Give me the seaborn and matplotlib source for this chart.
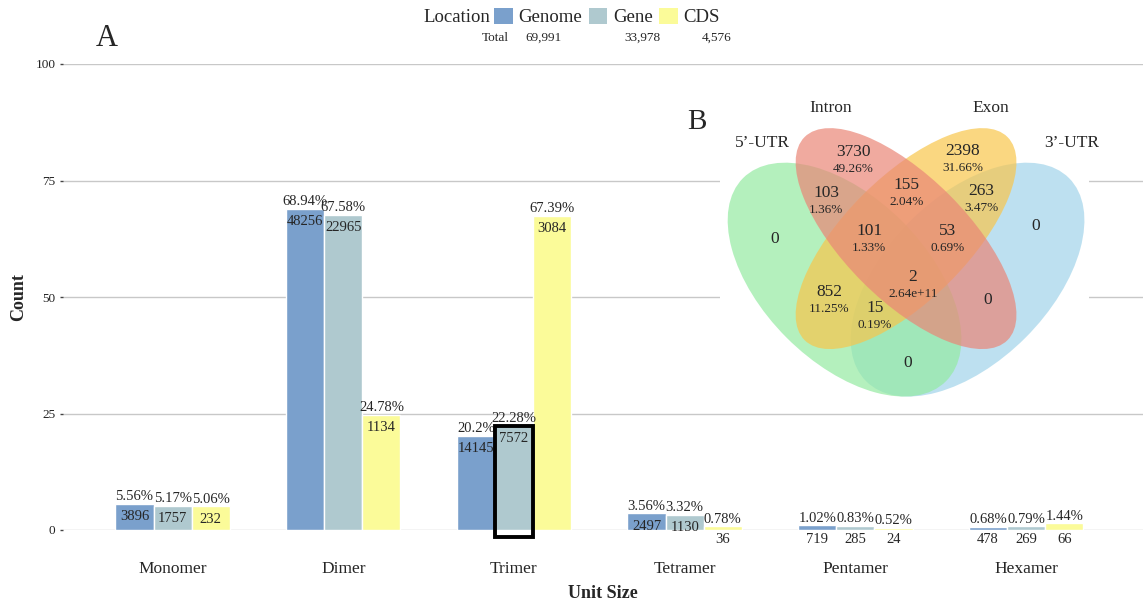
import matplotlib
matplotlib.use("Agg")
import matplotlib.pyplot as plt
from matplotlib.patches import Ellipse, Patch, Rectangle
import seaborn as sns
import pandas as pd

# panel A data
units = ["Monomer", "Dimer", "Trimer", "Tetramer", "Pentamer", "Hexamer"]
locations = ["Genome", "Gene", "CDS"]
genome_counts = [3896, 48256, 14145, 2497, 719, 478]
gene_counts = [1757, 22965, 7572, 1130, 285, 269]
cds_counts = [232, 1134, 3084, 36, 24, 66]
genome_pct = [5.56, 68.94, 20.2, 3.56, 1.02, 0.68]
gene_pct = [5.17, 67.58, 22.28, 3.32, 0.83, 0.79]
cds_pct = [5.06, 24.78, 67.39, 0.78, 0.52, 1.44]
totals = ["69,991", "33,978", "4,576"]

# panel B data (venn regions)
venn_sets = ["5\u2019-UTR", "Intron", "Exon", "3\u2019-UTR"]
venn_counts = [3730, 2398, 103, 155, 263, 0, 0, 101, 53, 2, 852, 15, 0, 0]
venn_pcts = ["49.26%", "31.66%", "1.36%", "2.04%", "3.47%", "", "",
             "1.33%", "0.69%", "2.64e+11", "11.25%", "0.19%", "", ""]

colors = ["#7AA0CC", "#AFC9CF", "#FBFB99"]

sns.set_style("white")
plt.rcParams["font.family"] = ["Liberation Serif", "DejaVu Serif"]

W, H = 1144, 601
fig = plt.figure(figsize=(W / 100, H / 100), dpi=100)
ax = fig.add_axes([63 / W, 1 - 530 / H, 1080 / W, 466 / H])

df = pd.DataFrame({
    "Unit": units * 3,
    "Location": [l for l in locations for _ in units],
    "Pct": genome_pct + gene_pct + cds_pct,
})
sns.barplot(data=df, x="Unit", y="Pct", hue="Location", hue_order=locations,
            palette=colors, width=0.67, saturation=1, edgecolor="white",
            linewidth=1, legend=False, ax=ax)

ax.set_ylim(0, 100)
ax.set_xlim(-0.642, 5.685)
ax.set_yticks([0, 25, 50, 75, 100])
ax.yaxis.grid(True, color="#c8c8c8", lw=1)
ax.set_axisbelow(True)
for s in ax.spines.values():
    s.set_visible(False)
ax.tick_params(axis="y", length=2.5, width=1, color="#444444", labelsize=9.5,
               labelcolor="#222222", pad=3, left=True)
ax.tick_params(axis="x", length=0, labelsize=12.5, pad=22)
ax.set_xlabel("Unit Size", fontsize=13, fontweight="bold", labelpad=6)
ax.set_ylabel("Count", fontsize=13, fontweight="bold", labelpad=6)

all_counts = [genome_counts, gene_counts, cds_counts]
all_pcts = [genome_pct, gene_pct, cds_pct]
for cont, cnts, pcts in zip(ax.containers, all_counts, all_pcts):
    for bar, c, p in zip(cont, cnts, pcts):
        x = bar.get_x() + bar.get_width() / 2
        h = bar.get_height()
        ax.annotate(f"{p:g}%", (x, h), xytext=(0, 0.5), textcoords="offset points",
                    ha="center", va="bottom", fontsize=10.5)
        if p > 3:
            ax.annotate(str(c), (x, h), xytext=(0, -4.5), textcoords="offset points",
                        ha="center", va="top", fontsize=10.5)
        else:
            ax.annotate(str(c), (x, 0), xytext=(0, -2), textcoords="offset points",
                        ha="center", va="top", fontsize=10.5)

# highlight on the trimer gene bar
hb = ax.containers[1][2]
ax.add_patch(Rectangle((hb.get_x(), -1.4), hb.get_width(), hb.get_height() + 1.4,
                       fill=False, ec="black", lw=2.8, clip_on=False, zorder=5))

# legend row
fig.text(490 / W, 1 - 17 / H, "Location", ha="right", va="center", fontsize=13.5)
handles = [Patch(fc=c, ec="none") for c in colors]
fig.legend(handles, locations, loc="center left", bbox_to_anchor=(494 / W, 1 - 17 / H),
           ncol=3, frameon=False, fontsize=13.5, handlelength=1.0, handleheight=1.0,
           handletextpad=0.3, columnspacing=0.35, borderpad=0, borderaxespad=0)
fig.text(495 / W, 1 - 38 / H, "Total", ha="center", va="center", fontsize=9.5)
for xp, t in zip([543, 642, 717], totals):
    fig.text(xp / W, 1 - 38 / H, t, ha="center", va="center", fontsize=9.5)

fig.text(107 / W, 1 - 38 / H, "A", ha="center", va="center", fontsize=22)

# panel B: four-set venn
vax = fig.add_axes([719.5 / W, 1 - 402.7 / H, 369 / W, 307.7 / H])
vax.set_xlim(0.045, 0.945)
vax.set_ylim(0.17, 0.92)
vax.axis("off")
vax.add_patch(Rectangle((0, 0), 1, 1, transform=vax.transAxes, fc="white", ec="none", zorder=0))

# drawn in stacking order: 3'-UTR, 5'-UTR, Exon, Intron
ell_specs = [((0.65, 0.47), 0.70, 0.40, 45, "#A2D4EA"),
             ((0.35, 0.47), 0.70, 0.40, -45, "#94EAA2"),
             ((0.50, 0.57), 0.70, 0.30, 45, "#F8C64C"),
             ((0.50, 0.57), 0.70, 0.30, -45, "#EA8677")]
for (cxy, w, h, ang, col) in ell_specs:
    vax.add_patch(Ellipse(cxy, w, h, angle=ang, fc=col, ec="none", alpha=0.7, zorder=1))

venn_pos = [(0.371, 0.781), (0.639, 0.784), (0.305, 0.681), (0.502, 0.701),
            (0.683, 0.686), (0.180, 0.569), (0.817, 0.601), (0.410, 0.589),
            (0.602, 0.589), (0.517, 0.477), (0.312, 0.440), (0.424, 0.401),
            (0.700, 0.420), (0.505, 0.267)]
for (px, py), n, pc in zip(venn_pos, venn_counts, venn_pcts):
    vax.text(px, py, str(n), ha="center", va="center", fontsize=12.5, zorder=3)
    if pc:
        vax.text(px, py - 0.041, pc, ha="center", va="center", fontsize=9.5, zorder=3)

set_pos = [(0.149, 0.803), (0.315, 0.889), (0.707, 0.889), (0.905, 0.803)]
for (px, py), name in zip(set_pos, venn_sets):
    vax.text(px, py, name, ha="center", va="center", fontsize=12.5, zorder=3)
fig.text(697 / W, 1 - 122 / H, "B", ha="center", va="center", fontsize=21)

fig.savefig("out.png", dpi=100)
